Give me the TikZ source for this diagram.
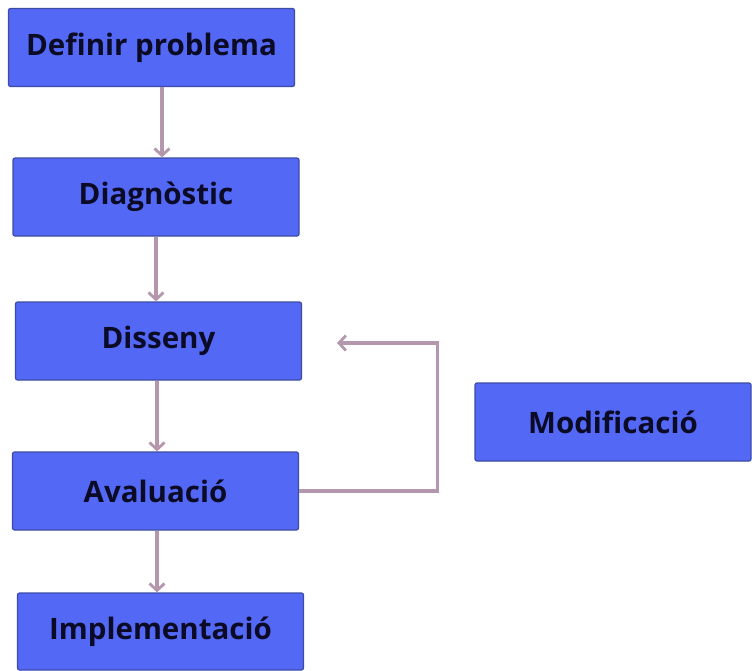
\documentclass[tikz,border=0pt]{standalone}
\usepackage{fontspec}
\setmainfont{Open Sans}
\usetikzlibrary{arrows.meta}

\definecolor{boxblue}{HTML}{5468F6}
\definecolor{boxline}{HTML}{3C4BA6}
\definecolor{flowpink}{HTML}{B497AC}
\definecolor{inkdark}{HTML}{0B0B26}

\tikzset{
    stepbox/.style={draw=boxline, line width=1.2pt, fill=boxblue,
        rounded corners=2pt, minimum width=286pt, minimum height=78pt,
        inner sep=0pt, text=inkdark,
        font=\fontsize{29.5}{34}\selectfont\bfseries},
    flow/.style={draw=flowpink, line width=3.2pt,
        -{Straight Barb[length=7pt, width=15pt, line width=2.8pt]}}
}

\begin{document}
\begin{tikzpicture}[x=1pt, y=-1pt]
\useasboundingbox (0,0) rectangle (752,670);

\node[stepbox] (defprob) at (151.5,47.5) {Definir problema};
\node[stepbox] (diag)    at (156,197)   {Diagnòstic};
\node[stepbox] (dissen)  at (158.5,341) {Disseny};
\node[stepbox] (aval)    at (155.5,491) {Avaluació};
\node[stepbox, minimum height=77pt] (implem) at (160.5,631.5) {Implementació};
\node[stepbox, minimum width=276pt] (modif) at (613,422) {Modificació};

\coordinate (retorn) at (337,343);

\draw[flow] ([xshift=10.5pt]defprob.south) -- ([xshift=10.5pt]defprob.south |- diag.north);
\draw[flow] (diag.south) -- (diag.south |- dissen.north);
\draw[flow] ([xshift=-1.5pt]dissen.south) -- ([xshift=-1.5pt]dissen.south |- aval.north);
\draw[flow] ([xshift=1.5pt]aval.south) -- ([xshift=1.5pt]aval.south |- implem.north);
\draw[flow] (aval.east) -- ++(138,0) |- (retorn);
\end{tikzpicture}
\end{document}
